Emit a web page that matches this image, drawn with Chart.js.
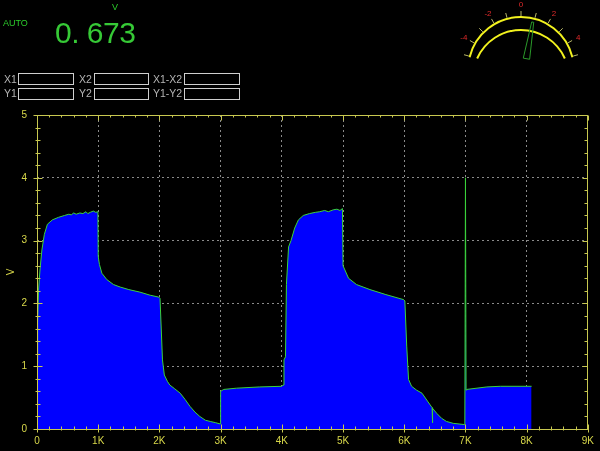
<!DOCTYPE html>
<html>
<head>
<meta charset="utf-8">
<script src="https://cdn.jsdelivr.net/npm/chart.js@4.4.1/dist/chart.umd.min.js"></script>
<style>
  html,body{margin:0;padding:0;background:#000;width:600px;height:451px;overflow:hidden;}
  #wrap{position:relative;width:600px;height:451px;}
  canvas#c{position:absolute;left:0;top:0;}
  .t{position:absolute;font-family:"Liberation Sans",Arial,sans-serif;white-space:nowrap;line-height:1;}
  .lbl{color:#b4b4b4;font-size:10.5px;}
  .box{position:absolute;border:1.5px solid #cfcfcf;box-sizing:border-box;background:#000;}
  svg{position:absolute;left:0;top:0;}
</style>
</head>
<body>
<div id="wrap">
  <canvas id="c" width="600" height="451"></canvas>
  <div class="t" style="left:3px;top:19px;font-size:9px;color:#2bcc2b;">AUTO</div>
  <div class="t" style="left:112px;top:3px;font-size:9px;color:#2bcc2b;">V</div>
  <div class="t" id="reading" style="left:55px;top:18px;font-size:30px;color:#36c936;letter-spacing:-0.5px;"></div>

  <div class="t lbl" style="left:4px;top:74px;">X1</div>
  <div class="box" style="left:18px;top:73px;width:56px;height:12px;"></div>
  <div class="t lbl" style="left:79px;top:74px;">X2</div>
  <div class="box" style="left:94px;top:73px;width:55px;height:12px;"></div>
  <div class="t lbl" style="left:153px;top:74px;">X1-X2</div>
  <div class="box" style="left:184px;top:73px;width:56px;height:12px;"></div>

  <div class="t lbl" style="left:4px;top:88px;">Y1</div>
  <div class="box" style="left:18px;top:88px;width:56px;height:12px;"></div>
  <div class="t lbl" style="left:79px;top:88px;">Y2</div>
  <div class="box" style="left:94px;top:88px;width:55px;height:12px;"></div>
  <div class="t lbl" style="left:153px;top:88px;">Y1-Y2</div>
  <div class="box" style="left:184px;top:88px;width:56px;height:12px;"></div>

  <svg id="gauge" width="600" height="70" viewBox="0 0 600 70"></svg>
</div>
<script>
// ---------- data ----------
const readingValue = 0.673;
const gaugeLabels = [-4, -2, 0, 2, 4];

const xValues = [
  0, 10, 25, 50, 80, 120, 170, 250, 350, 450, 520, 560, 600, 640, 700, 750, 800, 830, 870, 920, 960, 995,
  1000, 1020, 1060, 1140, 1250, 1360, 1500, 1680, 1850, 1990,
  2010, 2050, 2080, 2130, 2170, 2250, 2340, 2420, 2500, 2580, 2660, 2750, 2830, 2920, 2995,
  3000, 3050, 3260, 3640, 4000,
  4020, 4035, 4060, 4075, 4110, 4150, 4210, 4270, 4350, 4450, 4550, 4620, 4700, 4760, 4840, 4900, 4950, 4990,
  5000, 5090, 5220, 5440, 5700, 5990,
  6010, 6040, 6070, 6120, 6200, 6290, 6390, 6455, 6460, 6465, 6530, 6610, 6690, 6800, 6990,
  7000, 7010, 7020, 7350, 7570, 8080
];
const yValues = [
  1.05, 1.7, 2.2, 2.55, 2.85, 3.1, 3.26, 3.33, 3.37, 3.40, 3.42, 3.41, 3.44, 3.42, 3.44, 3.43, 3.46, 3.43, 3.45, 3.47, 3.45, 3.46,
  2.75, 2.62, 2.48, 2.38, 2.30, 2.26, 2.22, 2.18, 2.13, 2.10,
  2.08, 1.10, 0.86, 0.76, 0.70, 0.64, 0.57, 0.47, 0.36, 0.27, 0.20, 0.14, 0.12, 0.10, 0.08,
  0.60, 0.63, 0.65, 0.67, 0.68,
  0.70, 1.10, 1.15, 2.30, 2.90, 3.00, 3.20, 3.33, 3.40, 3.43, 3.45, 3.46, 3.48, 3.46, 3.49, 3.50, 3.48, 3.51,
  2.60, 2.40, 2.30, 2.22, 2.14, 2.06,
  2.04, 1.32, 0.79, 0.68, 0.62, 0.57, 0.43, 0.34, 0.10, 0.33, 0.25, 0.17, 0.12, 0.09, 0.07,
  4.00, 0.62, 0.63, 0.67, 0.68, 0.68
];
const xTickValues = [0, 1000, 2000, 3000, 4000, 5000, 6000, 7000, 8000, 9000];
const yTickValues = [0, 1, 2, 3, 4, 5];

// ---------- styles ----------
const AXIS = '#c8c850';
const TICKTXT = '#d8d84a';
const GRID = '#8a8a8a';

document.getElementById('reading').textContent = readingValue.toFixed(3).replace('.', '. ');

const points = xValues.map((x, i) => ({x, y: yValues[i]}));

const frame = {
  id: 'frame',
  afterDatasetsDraw(chart) {
    const {ctx, chartArea: a, scales: {x, y}} = chart;
    ctx.save();
    ctx.strokeStyle = AXIS;
    ctx.lineWidth = 1;
    const L = Math.round(a.left) + 0.5, R = Math.round(a.right) - 0.5;
    const T = Math.round(a.top) + 0.5, B = Math.round(a.bottom) + 0.5;
    ctx.beginPath();
    ctx.rect(L, T, R - L, B - T);
    const xmax = xTickValues[xTickValues.length - 1];
    for (let v = 0; v <= xmax; v += 200) {
      const major = v % 1000 === 0;
      const px = Math.round(x.getPixelForValue(v)) + 0.5;
      ctx.moveTo(px, B - (major ? 5 : 3)); ctx.lineTo(px, B + (major ? 3 : 1));
      ctx.moveTo(px, T); ctx.lineTo(px, T + (major ? 5 : 2));
    }
    const ymax = yTickValues[yTickValues.length - 1];
    for (let k = 0; k <= ymax * 5; k++) {
      const v = k / 5;
      const major = k % 5 === 0;
      const py = Math.round(y.getPixelForValue(v)) + 0.5;
      ctx.moveTo(L - (major ? 4 : 2), py); ctx.lineTo(L + (major ? 5 : 3), py);
      ctx.moveTo(R, py); ctx.lineTo(R - (major ? 5 : 3), py);
    }
    ctx.stroke();
    ctx.restore();
  }
};

new Chart(document.getElementById('c'), {
  type: 'line',
  data: {
    datasets: [{
      data: points,
      fill: 'origin',
      backgroundColor: '#0000ff',
      borderColor: '#3ad23a',
      borderWidth: 1,
      pointRadius: 0,
      tension: 0
    }]
  },
  options: {
    responsive: false,
    animation: false,
    events: [],
    layout: {padding: {top: 115, right: 12, bottom: 0, left: 0}},
    plugins: {legend: {display: false}, tooltip: {enabled: false}},
    scales: {
      x: {
        type: 'linear', min: 0, max: 9000,
        afterBuildTicks: s => { s.ticks = xTickValues.map(v => ({value: v})); },
        afterFit: s => { s.height = 22; },
        ticks: {
          color: TICKTXT, padding: 6, maxRotation: 0, autoSkip: false,
          font: {family: '"Liberation Sans", Arial, sans-serif', size: 10},
          callback: v => v === 0 ? '0' : (v / 1000) + 'K'
        },
        grid: {color: GRID, drawTicks: false, lineWidth: 1, borderDash: [2, 3]},
        border: {display: false, dash: [2, 3]}
      },
      y: {
        type: 'linear', min: 0, max: 5,
        afterBuildTicks: s => { s.ticks = yTickValues.map(v => ({value: v})); },
        afterFit: s => { s.width = 37; },
        ticks: {
          color: TICKTXT, padding: 10,
          font: {family: '"Liberation Sans", Arial, sans-serif', size: 10}
        },
        title: {display: true, text: 'V', color: TICKTXT, padding: {top: 5, bottom: 0},
                font: {family: '"Liberation Sans", Arial, sans-serif', size: 10}},
        grid: {color: GRID, drawTicks: false, lineWidth: 1, borderDash: [2, 3]},
        border: {display: false, dash: [2, 3]}
      }
    }
  },
  plugins: [frame]
});

// ---------- gauge ----------
(function () {
  const svg = document.getElementById('gauge');
  const NS = 'http://www.w3.org/2000/svg';
  const deg = Math.PI / 180;
  const cx = 521, cy = 70, R = 53;
  const el = (tag, attrs, text) => {
    const e = document.createElementNS(NS, tag);
    for (const k in attrs) e.setAttribute(k, attrs[k]);
    if (text !== undefined) e.textContent = text;
    svg.appendChild(e);
    return e;
  };
  const pt = (c, r, a) => [c[0] + r * Math.sin(a * deg), c[1] - r * Math.cos(a * deg)];
  const arc = (c, r, a0, a1) => {
    const p0 = pt(c, r, a0), p1 = pt(c, r, a1);
    return `M${p0[0]},${p0[1]} A${r},${r} 0 0 1 ${p1[0]},${p1[1]}`;
  };
  el('path', {d: arc([cx, cy], R, -76, 76), stroke: '#f2f21e', 'stroke-width': 2, fill: 'none'});
  el('path', {d: arc([cx, 78], 48, -66, 66), stroke: '#f2f21e', 'stroke-width': 2, fill: 'none'});
  for (let v = -5; v <= 5; v++) {
    const a = v * 15;
    const p0 = pt([cx, cy], R + 1, a), p1 = pt([cx, cy], R + 6, a);
    el('line', {x1: p0[0], y1: p0[1], x2: p1[0], y2: p1[1], stroke: '#b8b868', 'stroke-width': 1});
  }
  gaugeLabels.forEach(v => {
    const p = pt([cx, cy], 66, v * 15);
    el('text', {x: p[0], y: p[1] + 3, fill: '#e02a2a', 'font-size': 8,
      'font-family': 'Liberation Sans, Arial, sans-serif', 'text-anchor': 'middle'}, String(v));
  });
  const piv = [520, 95], a = readingValue * 15;
  const b1 = pt(piv, 37, a - 5), b2 = pt(piv, 37, a + 5), t1 = pt(piv, 74, a - 1), t2 = pt(piv, 74, a + 0.6);
  el('polygon', {points: `${b1} ${t1} ${t2} ${b2}`, stroke: '#2a9a2a', 'stroke-width': 1, fill: 'none'});
})();
</script>
</body>
</html>
